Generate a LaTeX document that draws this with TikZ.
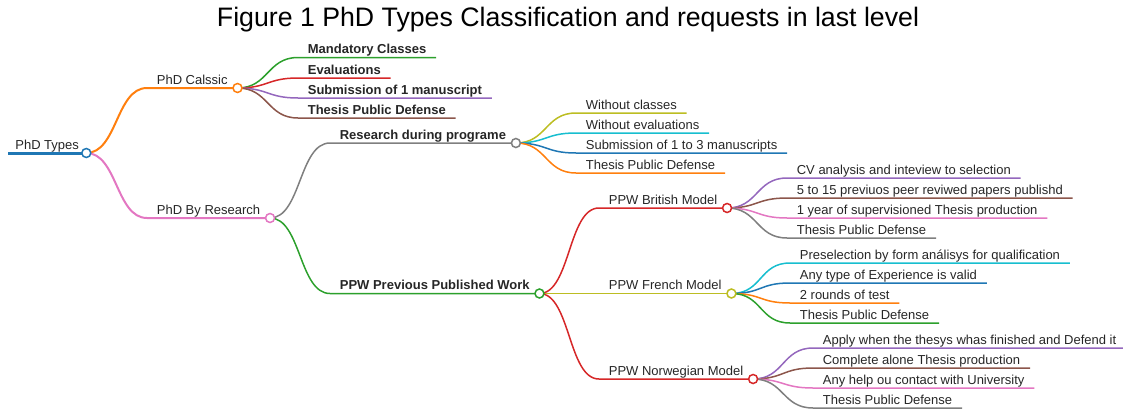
\documentclass[tikz,border=0pt]{standalone}
\usepackage{fontspec}
\setmainfont{Liberation Sans}
\usetikzlibrary{positioning}

\definecolor{mmblue}{HTML}{1F77B4}
\definecolor{mmorange}{HTML}{FF7F0E}
\definecolor{mmgreen}{HTML}{2CA02C}
\definecolor{mmred}{HTML}{D62728}
\definecolor{mmpurple}{HTML}{9467BD}
\definecolor{mmbrown}{HTML}{8C564B}
\definecolor{mmpink}{HTML}{E377C2}
\definecolor{mmgray}{HTML}{7F7F7F}
\definecolor{mmolive}{HTML}{BCBD22}
\definecolor{mmcyan}{HTML}{17BECF}

\begin{document}
\begin{tikzpicture}[x=0.02cm,y=-0.02cm,
    topic/.style={anchor=south west,inner xsep=0.19cm,inner ysep=0.07cm,text depth=0pt,
        font=\fontsize{7.4}{9}\selectfont,text=black!85},
    strong/.style={topic,font=\fontsize{7.4}{9}\selectfont\bfseries},
    knob/.style={circle,draw=#1,fill=white,line width=0.03cm,minimum size=0.18cm,inner sep=0pt},
    link/.style={to path={.. controls +(31,0) and +(-31,0) .. (\tikztotarget)}},
    trunk/.style={line width=0.06cm},
    bough/.style={line width=0.04cm},
    twig/.style={line width=0.03cm}]
    \useasboundingbox (0,0) rectangle (1123,409);

    \node[anchor=base,font=\fontsize{15.2}{18}\selectfont] (title) at (568,27)
        {Figure 1 PhD Types Classification and requests in last level};

    % tree
    \node[topic,inner xsep=0.14cm] (root) at (8,153) {PhD Types};
    \node[topic] (cls) at (147,88) {PhD Calssic};
    \node[topic] (res) at (147,218) {PhD By Research};

    \node[strong] (c1) at (298,57.5) {Mandatory Classes};
    \node[strong] (c2) at (298,78) {Evaluations};
    \node[strong] (c3) at (298,98) {Submission of 1 manuscript};
    \node[strong] (c4) at (298,118) {Thesis Public Defense};

    \node[strong] (rdp) at (330,143) {Research during programe};
    \node[strong] (ppw) at (330,293.5) {PPW Previous Published Work};

    \node[topic] (r1) at (576,113) {Without classes};
    \node[topic] (r2) at (576,133) {Without evaluations};
    \node[topic] (r3) at (576,153) {Submission of 1 to 3 manuscripts};
    \node[topic] (r4) at (576,173) {Thesis Public Defense};

    \node[topic] (bri) at (599,208) {PPW British Model};
    \node[topic] (fre) at (599,293.5) {PPW French Model};
    \node[topic] (nor) at (599,379) {PPW Norwegian Model};

    \node[topic] (b1) at (787,178) {CV analysis and inteview to selection};
    \node[topic] (b2) at (787,198) {5 to 15 previuos peer reviwed papers publishd};
    \node[topic] (b3) at (787,218) {1 year of supervisioned Thesis production};
    \node[topic] (b4) at (787,238) {Thesis Public Defense};

    \node[topic] (f1) at (790,263) {Preselection by form análisys for qualification};
    \node[topic] (f2) at (790,283) {Any type of Experience is valid};
    \node[topic] (f3) at (790,303) {2 rounds of test};
    \node[topic] (f4) at (790,323) {Thesis Public Defense};

    \node[topic] (n1) at (813,348) {Apply when the thesys whas finished and Defend it};
    \node[topic] (n2) at (813,368) {Complete alone Thesis production};
    \node[topic] (n3) at (813,388) {Any help ou contact with University};
    \node[topic] (n4) at (813,408) {Thesis Public Defense};

    % branches
    \draw[trunk,mmblue] (root.south west) -- (root.south east);
    \draw[bough,mmorange] (root.south east) to[link] (cls.south west) -- (cls.south east);
    \draw[bough,mmpink] (root.south east) to[link] (res.south west) -- (res.south east);

    \draw[twig,mmgreen] (cls.south east) to[link] (c1.south west) -- (c1.south east);
    \draw[twig,mmred] (cls.south east) to[link] (c2.south west) -- (c2.south east);
    \draw[twig,mmpurple] (cls.south east) to[link] (c3.south west) -- (c3.south east);
    \draw[twig,mmbrown] (cls.south east) to[link] (c4.south west) -- (c4.south east);

    \draw[twig,mmgray] (res.south east) to[link] (rdp.south west) -- (rdp.south east);
    \draw[twig,mmgreen] (res.south east) to[link] (ppw.south west) -- (ppw.south east);

    \draw[twig,mmolive] (rdp.south east) to[link] (r1.south west) -- (r1.south east);
    \draw[twig,mmcyan] (rdp.south east) to[link] (r2.south west) -- (r2.south east);
    \draw[twig,mmblue] (rdp.south east) to[link] (r3.south west) -- (r3.south east);
    \draw[twig,mmorange] (rdp.south east) to[link] (r4.south west) -- (r4.south east);

    \draw[twig,mmred] (ppw.south east) to[link] (bri.south west) -- (bri.south east);
    \draw[twig,mmolive] (ppw.south east) to[link] (fre.south west) -- (fre.south east);
    \draw[twig,mmred] (ppw.south east) to[link] (nor.south west) -- (nor.south east);

    \draw[twig,mmpurple] (bri.south east) to[link] (b1.south west) -- (b1.south east);
    \draw[twig,mmbrown] (bri.south east) to[link] (b2.south west) -- (b2.south east);
    \draw[twig,mmpink] (bri.south east) to[link] (b3.south west) -- (b3.south east);
    \draw[twig,mmgray] (bri.south east) to[link] (b4.south west) -- (b4.south east);

    \draw[twig,mmcyan] (fre.south east) to[link] (f1.south west) -- (f1.south east);
    \draw[twig,mmblue] (fre.south east) to[link] (f2.south west) -- (f2.south east);
    \draw[twig,mmorange] (fre.south east) to[link] (f3.south west) -- (f3.south east);
    \draw[twig,mmgreen] (fre.south east) to[link] (f4.south west) -- (f4.south east);

    \draw[twig,mmpurple] (nor.south east) to[link] (n1.south west) -- (n1.south east);
    \draw[twig,mmbrown] (nor.south east) to[link] (n2.south west) -- (n2.south east);
    \draw[twig,mmpink] (nor.south east) to[link] (n3.south west) -- (n3.south east);
    \draw[twig,mmgray] (nor.south east) to[link] (n4.south west) -- (n4.south east);

    % circles on top of the line ends
    \node[knob=mmblue] (root-o) at (root.south east) {};
    \node[knob=mmorange] (cls-o) at (cls.south east) {};
    \node[knob=mmpink] (res-o) at (res.south east) {};
    \node[knob=mmgray] (rdp-o) at (rdp.south east) {};
    \node[knob=mmgreen] (ppw-o) at (ppw.south east) {};
    \node[knob=mmred] (bri-o) at (bri.south east) {};
    \node[knob=mmolive] (fre-o) at (fre.south east) {};
    \node[knob=mmred] (nor-o) at (nor.south east) {};
\end{tikzpicture}
\end{document}
